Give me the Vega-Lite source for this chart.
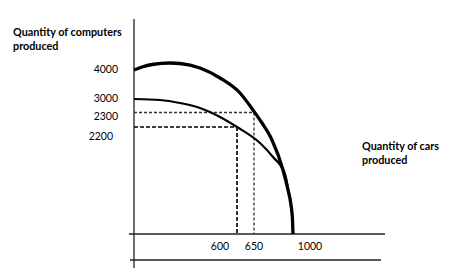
{
  "$schema": "https://vega.github.io/schema/vega-lite/v6.json",
  "width": 461,
  "height": 272,
  "padding": 0,
  "autosize": {"type": "fit", "contains": "padding"},
  "background": "white",
  "config": {"view": {"stroke": null}},
  "datasets": {
    "outer": [
      {"cars": 0, "computers": 164}, {"cars": 8, "computers": 167}, {"cars": 18, "computers": 169.5},
      {"cars": 36, "computers": 171}, {"cars": 46, "computers": 170.5}, {"cars": 66, "computers": 166},
      {"cars": 86, "computers": 156}, {"cars": 106, "computers": 141}, {"cars": 119, "computers": 124},
      {"cars": 128, "computers": 111}, {"cars": 138, "computers": 94}, {"cars": 149, "computers": 64},
      {"cars": 154, "computers": 44}, {"cars": 157, "computers": 29}, {"cars": 158.5, "computers": 14},
      {"cars": 159, "computers": 0}
    ],
    "inner": [
      {"cars": 0, "computers": 135}, {"cars": 26, "computers": 134}, {"cars": 46, "computers": 131},
      {"cars": 66, "computers": 126}, {"cars": 86, "computers": 117}, {"cars": 103, "computers": 107},
      {"cars": 126, "computers": 91}, {"cars": 139, "computers": 77}, {"cars": 151, "computers": 60},
      {"cars": 154, "computers": 46}, {"cars": 157, "computers": 29}, {"cars": 158.5, "computers": 14},
      {"cars": 159, "computers": 0}
    ],
    "axes": [
      {"x1": 0, "y1": 215, "x2": 0, "y2": -34},
      {"x1": -5, "y1": 0, "x2": 251, "y2": 0},
      {"x1": -4, "y1": -26, "x2": 247, "y2": -26}
    ],
    "dashHigh": [
      {"x1": 0, "y1": 121.5, "x2": 120, "y2": 121.5},
      {"x1": 120, "y1": 121.5, "x2": 120, "y2": 0}
    ],
    "dashLow": [
      {"x1": 0, "y1": 107, "x2": 103, "y2": 107},
      {"x1": 103, "y1": 107, "x2": 103, "y2": 0}
    ],
    "yLabels": [
      {"x": -16, "y": 164, "label": "4000"},
      {"x": -16, "y": 135, "label": "3000"},
      {"x": -16, "y": 117, "label": "2300"},
      {"x": -21, "y": 97, "label": "2200"}
    ],
    "xLabels": [
      {"x": 86, "y": -13, "label": "600"},
      {"x": 120, "y": -13, "label": "650"},
      {"x": 176, "y": -13, "label": "1000"}
    ],
    "titles": [
      {"x": -121, "y": 201, "label": "Quantity of computers"},
      {"x": -121, "y": 187, "label": "produced"},
      {"x": 228, "y": 87, "label": "Quantity of cars"},
      {"x": 228, "y": 73, "label": "produced"}
    ]
  },
  "layer": [
    {
      "data": {"name": "axes"},
      "mark": {"type": "rule", "color": "#222", "strokeWidth": 1.3},
      "encoding": {
        "x": {"field": "x1", "type": "quantitative", "scale": {"domain": [-134, 327], "nice": false, "zero": false}, "axis": null},
        "y": {"field": "y1", "type": "quantitative", "scale": {"domain": [-38, 234], "nice": false, "zero": false}, "axis": null},
        "x2": {"field": "x2"},
        "y2": {"field": "y2"}
      }
    },
    {
      "data": {"name": "dashHigh"},
      "mark": {"type": "rule", "color": "#333", "strokeWidth": 1.3, "strokeDash": [3, 2]},
      "encoding": {
        "x": {"field": "x1", "type": "quantitative"},
        "y": {"field": "y1", "type": "quantitative"},
        "x2": {"field": "x2"},
        "y2": {"field": "y2"}
      }
    },
    {
      "data": {"name": "dashLow"},
      "mark": {"type": "rule", "color": "#000", "strokeWidth": 1.6, "strokeDash": [4, 2]},
      "encoding": {
        "x": {"field": "x1", "type": "quantitative"},
        "y": {"field": "y1", "type": "quantitative"},
        "x2": {"field": "x2"},
        "y2": {"field": "y2"}
      }
    },
    {
      "data": {"name": "inner"},
      "mark": {"type": "line", "color": "#000", "strokeWidth": 2.2, "interpolate": "monotone"},
      "encoding": {
        "x": {"field": "cars", "type": "quantitative"},
        "y": {"field": "computers", "type": "quantitative"}
      }
    },
    {
      "data": {"name": "outer"},
      "mark": {"type": "line", "color": "#000", "strokeWidth": 3.3, "interpolate": "monotone"},
      "encoding": {
        "x": {"field": "cars", "type": "quantitative"},
        "y": {"field": "computers", "type": "quantitative"}
      }
    },
    {
      "data": {"name": "yLabels"},
      "mark": {"type": "text", "align": "right", "baseline": "middle", "font": "Lato", "fontSize": 10.5, "color": "#000"},
      "encoding": {
        "x": {"field": "x", "type": "quantitative"},
        "y": {"field": "y", "type": "quantitative"},
        "text": {"field": "label"}
      }
    },
    {
      "data": {"name": "xLabels"},
      "mark": {"type": "text", "align": "center", "baseline": "middle", "font": "Lato", "fontSize": 10.5, "color": "#000"},
      "encoding": {
        "x": {"field": "x", "type": "quantitative"},
        "y": {"field": "y", "type": "quantitative"},
        "text": {"field": "label"}
      }
    },
    {
      "data": {"name": "titles"},
      "mark": {"type": "text", "align": "left", "baseline": "middle", "font": "Lato", "fontSize": 10.8, "fontWeight": "bold", "color": "#000"},
      "encoding": {
        "x": {"field": "x", "type": "quantitative"},
        "y": {"field": "y", "type": "quantitative"},
        "text": {"field": "label"}
      }
    }
  ]
}
